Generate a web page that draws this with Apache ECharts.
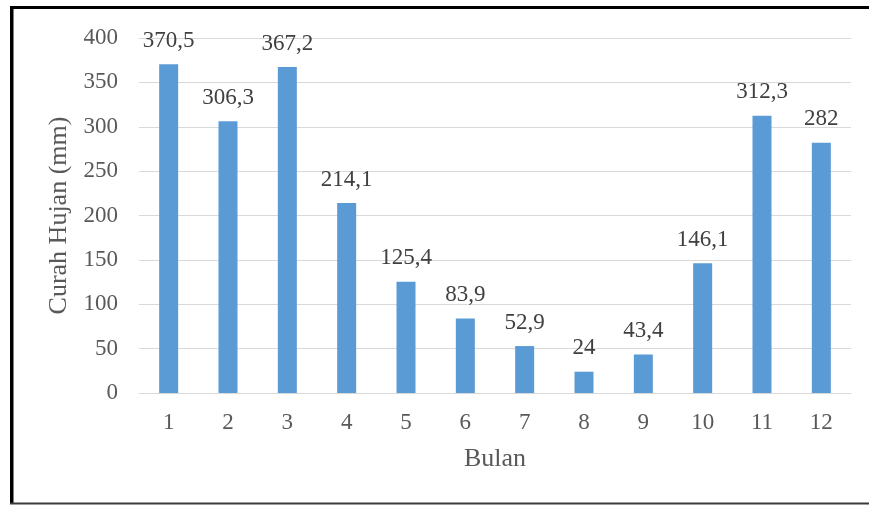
<!DOCTYPE html>
<html>
<head>
<meta charset="utf-8">
<script src="https://cdn.jsdelivr.net/npm/echarts@6/dist/echarts.min.js"></script>
<style>
html,body{margin:0;padding:0;background:#fff;}
#c{width:869px;height:505px;}
</style>
</head>
<body>
<div id="c"></div>
<script>
const categories = ['1','2','3','4','5','6','7','8','9','10','11','12'];
const rainfall = [370.5, 306.3, 367.2, 214.1, 125.4, 83.9, 52.9, 24, 43.4, 146.1, 312.3, 282];
const yTicks = [0, 50, 100, 150, 200, 250, 300, 350, 400];
const xTitle = 'Bulan';
const yTitle = 'Curah Hujan (mm)';

const FONT = "'Liberation Serif', 'DejaVu Serif', serif";
const chart = echarts.init(document.getElementById('c'), null, {renderer: 'canvas'});
chart.setOption({
  animation: false,
  backgroundColor: '#ffffff',
  grid: {left: 139, right: 18, top: 38, bottom: 112, containLabel: false},
  xAxis: {
    type: 'category',
    data: categories,
    name: xTitle,
    nameLocation: 'middle',
    nameGap: 53,
    nameTextStyle: {fontFamily: FONT, fontSize: 26, color: '#595959'},
    axisLine: {show: true, lineStyle: {color: '#d9d9d9', width: 1}},
    axisTick: {show: false},
    axisLabel: {fontFamily: FONT, fontSize: 23, color: '#595959', margin: 18}
  },
  yAxis: {
    type: 'value',
    min: yTicks[0],
    max: yTicks[yTicks.length - 1],
    interval: 50,
    name: yTitle,
    nameLocation: 'middle',
    nameGap: 66,
    nameRotate: 90,
    nameTextStyle: {fontFamily: FONT, fontSize: 26, color: '#595959'},
    axisLine: {show: false},
    axisTick: {show: false},
    splitLine: {lineStyle: {color: '#d9d9d9', width: 1}},
    axisLabel: {fontFamily: FONT, fontSize: 23, color: '#595959', margin: 21}
  },
  series: [{
    type: 'bar',
    data: rainfall,
    barWidth: 19,
    itemStyle: {color: '#5b9bd5'},
    label: {
      show: true,
      position: 'top',
      distance: 12,
      fontFamily: FONT,
      fontSize: 23,
      color: '#404040',
      formatter: p => String(p.value).replace('.', ',')
    }
  }],
  graphic: [
    {type: 'rect', shape: {x: 10, y: 6, width: 859, height: 3}, style: {fill: '#000'}, silent: true},
    {type: 'rect', shape: {x: 10, y: 6, width: 3.5, height: 498}, style: {fill: '#000'}, silent: true},
    {type: 'rect', shape: {x: 10, y: 502.5, width: 859, height: 2}, style: {fill: '#3a3a3a'}, silent: true}
  ]
});
</script>
</body>
</html>
